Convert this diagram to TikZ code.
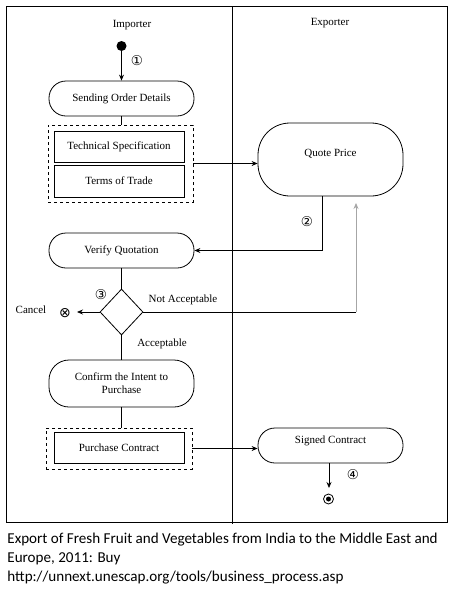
\documentclass[tikz,border=0pt]{standalone}
\usepackage{fontspec}
\setmainfont{Liberation Serif}
\newfontfamily\symfont{DejaVu Sans}
\newfontfamily\carlitofont{Carlito}
\usetikzlibrary{arrows.meta,shapes.geometric}
\begin{document}
\begin{tikzpicture}[x=1pt,y=-1pt,line width=0.8pt,
  txt/.style={font=\fontsize{11}{13}\selectfont, inner sep=0pt},
  act/.style={draw, rounded corners=17pt, minimum width=145pt, minimum height=35pt, inner sep=0pt, font=\fontsize{11}{13}\selectfont, align=center},
  docbox/.style={draw, minimum width=130pt, minimum height=31pt, inner sep=0pt, font=\fontsize{11}{13}\selectfont},
  dbox/.style={draw, dashed, inner sep=0pt},
  arr/.style={-{Stealth[length=6pt,width=5pt]}},
  num/.style={font=\symfont\fontsize{13.5}{15}\selectfont, inner sep=0pt}
]
\useasboundingbox (0,0) rectangle (453,592);
% frame and lanes
\node[draw, minimum width=441pt, minimum height=516pt, inner sep=0pt] (frame) at (226.5,264.5) {};
\coordinate (divtop) at (232,7);
\coordinate (divbot) at (232,524);
\draw (divtop) -- (divbot);
\node[txt] (imp) at (132,25) {Importer};
\node[txt] (exp) at (330,23) {Exporter};
% start
\node[circle, fill=black, minimum size=10pt, inner sep=0pt] (start) at (121.5,46) {};
\node[act] (send) at (121.5,98.5) {Sending Order Details};
\draw[arr] (start) -- (send.north);
\node[num] (n1) at (137,61) {①};
% group 1
\node[dbox, minimum width=145pt, minimum height=77pt] (grp1) at (120.5,163.5) {};
\node[docbox] (tech) at (119,146.5) {Technical Specification};
\node[docbox, minimum height=32pt] (terms) at (119,181) {Terms of Trade};
\draw (send.south) -- (send.south |- grp1.north);
% quote
\node[act, rounded corners=32pt, minimum height=73pt, text depth=14pt] (quote) at (330.5,159.5) {Quote Price};
\draw[arr] (grp1.east) -- (grp1.east -| quote.west);
\node[act] (verify) at (121.5,250.5) {Verify Quotation};
\draw[arr] ([xshift=-8.5pt]quote.south) |- (verify.east);
\node[num] (n2) at (307,222) {②};
% decision
\node[draw, diamond, minimum width=43pt, minimum height=46pt, inner sep=0pt] (dia) at (121.5,312) {};
\draw (verify.south) -- (dia.north);
\node[num] (n3) at (101,295) {③};
\node[txt] (na) at (183,300) {Not Acceptable};
\coordinate (nacorner) at (356,312);
\coordinate (qback) at (356,203);
\draw (dia.east) -- (nacorner);
\draw[arr, gray!70] (nacorner) -- (qback);
\coordinate (cancelend) at (77,312);
\draw[arr] (dia.west) -- (cancelend);
\node[num, font=\symfont\fontsize{14}{16}\selectfont] (cx) at (65,313) {⊗};
\node[txt] (cancel) at (31,310) {Cancel};
\node[txt] (acc) at (162,344) {Acceptable};
% confirm
\node[act, rounded corners=20pt, minimum height=47pt] (confirm) at (121.5,383.5) {Confirm the Intent to\\Purchase};
\draw (dia.south) -- (confirm.north);
% group 2
\node[dbox, minimum width=146pt, minimum height=41pt] (grp2) at (119,448.5) {};
\node[docbox] (pc) at (119,447.5) {Purchase Contract};
\draw (confirm.south) -- (confirm.south |- grp2.north);
\node[act, text depth=12.5pt] (signed) at (330.5,445.5) {Signed Contract};
\draw[arr] (grp2.east) -- (grp2.east -| signed.west);
\coordinate (endtop) at (329,488);
\draw[arr] (signed.south -| endtop) -- (endtop);
\node[num] (n4) at (353,475) {④};
\node[draw, circle, minimum size=10pt, inner sep=0pt] (endc) at (328.5,499) {};
\node[circle, fill=black, minimum size=5pt, inner sep=0pt] (endd) at (endc) {};
% caption
\node[anchor=north west, align=left, inner sep=0pt, font=\carlitofont\fontsize{15.1}{18.8}\selectfont] (caption) at (7,533) {Export of Fresh Fruit and Vegetables from India to the Middle East and\\Europe, 2011: Buy\\http://unnext.unescap.org/tools/business\_process.asp};
\end{tikzpicture}
\end{document}
